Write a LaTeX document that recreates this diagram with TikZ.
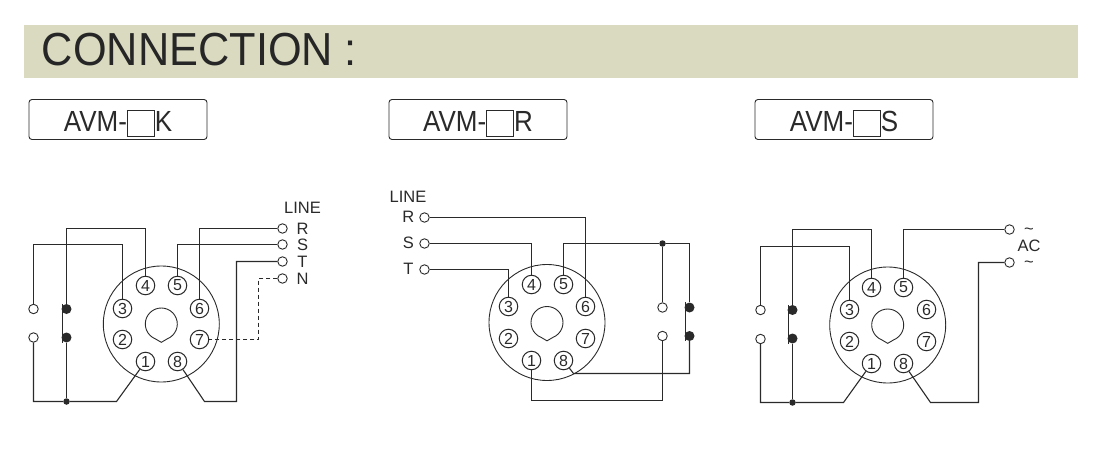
\documentclass[tikz,border=0pt]{standalone}
\usepackage{fontspec}
\setmainfont{Liberation Sans}
\usetikzlibrary{positioning}
\definecolor{headerTan}{HTML}{DADAC0}
\definecolor{inkGrey}{HTML}{2A2A2A}
\newcommand{\blankbox}{\raisebox{-4pt}{\setlength{\fboxrule}{.9pt}\setlength{\fboxsep}{0pt}\fbox{\rule{0pt}{25pt}\rule{26pt}{0pt}}}}
\newcommand{\tallname}[1]{\scalebox{1}[1.12]{#1}}
\tikzset {
    style Header/.style={
        fill=headerTan,
        rectangle, % Set the shape as a rectangle
        minimum width=1054pt,
        minimum height=53pt,
    },
    style Model/.style={
        draw=inkGrey,
        line width=.9pt,
        rectangle, % Set the shape as a rectangle
        rounded corners=3pt,
        minimum width=178pt,
        minimum height=40pt,
        inner sep=0pt,
        text=inkGrey,
        text height=24.4pt,
        text depth=0pt,
        font=\fontsize{26}{28}\selectfont,
    },
    style Socket/.style={
        draw=inkGrey,
        line width=.9pt,
        circle,
        minimum size=116pt,
    },
    style Pin/.style={
        draw=inkGrey,
        line width=1pt,
        circle,
        minimum size=18.5pt,
        inner sep=0pt,
        text=inkGrey,
        font=\fontsize{16}{16}\selectfont,
    },
    style Term/.style={
        draw=inkGrey,
        line width=.9pt,
        circle,
        minimum size=9.5pt,
        inner sep=0pt,
    },
    style Contact/.style={
        fill=inkGrey,
        circle,
        minimum size=10pt,
        inner sep=0pt,
    },
    style Joint/.style={
        fill=inkGrey,
        circle,
        minimum size=6.5pt,
        inner sep=0pt,
    },
    style Label/.style={
        inner sep=0pt,
        text=inkGrey,
        font=\fontsize{16.5}{18}\selectfont,
    },
    style Tilde/.style={
        style Label,
        text height=9pt,
        text depth=0pt,
    },
    style Wire/.style={
        draw=inkGrey,
        line width=1.1pt,
    },
}
\newcommand{\keyhole}[1]{\draw[style Wire, line width=.9pt] (#1) ++(68:16) arc (68:-248:16) -- ++(6,3.5) -- cycle;}
\begin{document}
\begin{tikzpicture}[x=1pt, y=-1pt]
\useasboundingbox (0,0) rectangle (1095,460);

\node[style Header] at (551,51.5) (header) {};
\node[text=black!85, inner sep=0pt, yscale=1.07, font=\fontsize{43.3}{45}\selectfont] at (199.5,49.5) (title) {CONNECTION :};

\node[style Model] at (118,119.5) (modelK) {\tallname{AVM-}\blankbox\tallname{K}};
\node[style Model] at (478,119.5) (modelR) {\tallname{AVM-}\blankbox\tallname{R}};
\node[style Model] at (844,119.5) (modelS) {\tallname{AVM-}\blankbox\tallname{S}};

% left socket
\node[style Socket] at (161.3,324) (socketA) {};
\keyhole{socketA}
\node[style Pin] at (145.5,361.5) (pinAone) {1};
\node[style Pin] at (122.5,339.5) (pinAtwo) {2};
\node[style Pin] at (122.5,308.5) (pinAthree) {3};
\node[style Pin] at (145.5,285.5) (pinAfour) {4};
\node[style Pin] at (177.5,285.5) (pinAfive) {5};
\node[style Pin] at (199.5,308.5) (pinAsix) {6};
\node[style Pin] at (199.5,339.5) (pinAseven) {7};
\node[style Pin] at (177.5,361.5) (pinAeight) {8};

\node[style Label] at (302.5,208) (lineA) {LINE};
\node[style Label] at (302.5,228.5) (labelAr) {R};
\node[style Label] at (302.5,245) (labelAs) {S};
\node[style Label] at (302.5,261.5) (labelAt) {T};
\node[style Label] at (302.5,279) (labelAn) {N};
\node[style Term] at (282.5,228.5) (termAr) {};
\node[style Term] at (282.5,244.5) (termAs) {};
\node[style Term] at (282.5,261.5) (termAt) {};
\node[style Term] at (282.5,278.5) (termAn) {};
\node[style Term] at (33.5,309) (openAup) {};
\node[style Term] at (33.5,337.5) (openAlow) {};
\node[style Contact] at (66.5,309) (contactAup) {};
\node[style Contact] at (66.5,337.5) (contactAlow) {};
\node[style Joint] at (66.5,401.5) (jointA) {};
\coordinate (topAfour) at (145.5,228.5);
\coordinate (topAthree) at (122.5,244.5);
\coordinate (footAopen) at (33.5,401.5);
\coordinate (bendAone) at (116.5,401.5);
\coordinate (bendAeight) at (204.5,401.5);
\coordinate (footAt) at (236.5,401.5);
\coordinate (bendAseven) at (258.5,339.5);

\draw[style Wire] (termAr) -| (pinAsix);
\draw[style Wire] (termAs) -| (pinAfive);
\draw[style Wire] (termAt) -| (footAt) -- (bendAeight) -- (pinAeight);
\draw[style Wire, dash pattern=on 4pt off 3pt] (termAn) -| (bendAseven) -- (pinAseven);
\draw[style Wire] (pinAfour) -- (topAfour) -| (contactAup);
\draw[style Wire] (pinAthree) -- (topAthree) -| (openAup);
\draw[style Wire] (openAlow) -- (footAopen) -- (jointA) -- (bendAone) -- (pinAone);
\draw[style Wire] (contactAlow) -- (jointA);
\draw[style Wire] ([xshift=-4pt]contactAup.north) -- ([xshift=-4pt]contactAlow.south);

% middle socket
\node[style Socket] at (547,322.5) (socketB) {};
\keyhole{socketB}
\node[style Pin] at (531.5,360.5) (pinBone) {1};
\node[style Pin] at (508.5,338.5) (pinBtwo) {2};
\node[style Pin] at (508.5,306.5) (pinBthree) {3};
\node[style Pin] at (531.5,284.5) (pinBfour) {4};
\node[style Pin] at (563.5,284.5) (pinBfive) {5};
\node[style Pin] at (585.5,306.5) (pinBsix) {6};
\node[style Pin] at (585.5,338.5) (pinBseven) {7};
\node[style Pin] at (563.5,360.5) (pinBeight) {8};

\node[style Label] at (408,197) (lineB) {LINE};
\node[style Label] at (408.3,217) (labelBr) {R};
\node[style Label] at (408.3,243.3) (labelBs) {S};
\node[style Label] at (408.3,269.3) (labelBt) {T};
\node[style Term] at (424.5,217.5) (termBr) {};
\node[style Term] at (424.5,243.5) (termBs) {};
\node[style Term] at (424.5,269.5) (termBt) {};
\node[style Term] at (662.5,307.5) (openBup) {};
\node[style Term] at (662.5,336) (openBlow) {};
\node[style Contact] at (689.5,307.5) (contactBup) {};
\node[style Contact] at (689.5,336) (contactBlow) {};
\node[style Joint] at (662.5,243.5) (jointB) {};
\coordinate (topBfive) at (563.5,243.5);
\coordinate (topBright) at (689.5,243.5);
\coordinate (footBright) at (689.5,373.5);
\coordinate (bendBeight) at (573.5,373.5);
\coordinate (footBone) at (531.5,400.5);
\coordinate (footBopen) at (662.5,400.5);

\draw[style Wire] (termBr) -| (pinBsix);
\draw[style Wire] (termBs) -| (pinBfour);
\draw[style Wire] (termBt) -| (pinBthree);
\draw[style Wire] (pinBfive) -- (topBfive) -- (jointB) -- (topBright) -- (contactBup);
\draw[style Wire] (jointB) -- (openBup);
\draw[style Wire] (contactBlow) -- (footBright) -- (bendBeight) -- (pinBeight);
\draw[style Wire] (pinBone) -- (footBone) -- (footBopen) -- (openBlow);
\draw[style Wire] ([xshift=-4pt]contactBup.north) -- ([xshift=-4pt]contactBlow.south);

% right socket
\node[style Socket] at (887.7,325) (socketC) {};
\keyhole{socketC}
\node[style Pin] at (871.5,363.5) (pinCone) {1};
\node[style Pin] at (849.5,341.5) (pinCtwo) {2};
\node[style Pin] at (849.5,309.5) (pinCthree) {3};
\node[style Pin] at (871.5,287.5) (pinCfour) {4};
\node[style Pin] at (903.5,287.5) (pinCfive) {5};
\node[style Pin] at (926.5,309.5) (pinCsix) {6};
\node[style Pin] at (926.5,341.5) (pinCseven) {7};
\node[style Pin] at (903.5,363.5) (pinCeight) {8};

\node[style Label] at (1029,246) (labelCac) {AC};
\node[style Tilde] at (1029,229.5) (tildeCup) {\char"007E};
\node[style Tilde] at (1029,263) (tildeClow) {\char"007E};
\node[style Term] at (1009.5,229.5) (termCup) {};
\node[style Term] at (1009.5,262.5) (termClow) {};
\node[style Term] at (760.5,310) (openCup) {};
\node[style Term] at (760.5,339) (openClow) {};
\node[style Contact] at (792.5,310) (contactCup) {};
\node[style Contact] at (792.5,338.5) (contactClow) {};
\node[style Joint] at (792.5,402.5) (jointC) {};
\coordinate (topCfour) at (871.5,229.5);
\coordinate (topCthree) at (849.5,246.5);
\coordinate (footCopen) at (760.5,402.5);
\coordinate (bendCone) at (843.5,402.5);
\coordinate (bendCeight) at (930.5,402.5);
\coordinate (footCt) at (978.5,402.5);

\draw[style Wire] (termCup) -| (pinCfive);
\draw[style Wire] (termClow) -| (footCt) -- (bendCeight) -- (pinCeight);
\draw[style Wire] (pinCfour) -- (topCfour) -| (contactCup);
\draw[style Wire] (pinCthree) -- (topCthree) -| (openCup);
\draw[style Wire] (openClow) -- (footCopen) -- (jointC) -- (bendCone) -- (pinCone);
\draw[style Wire] (contactClow) -- (jointC);
\draw[style Wire] ([xshift=-4pt]contactCup.north) -- ([xshift=-4pt]contactClow.south);
\end{tikzpicture}
\end{document}
